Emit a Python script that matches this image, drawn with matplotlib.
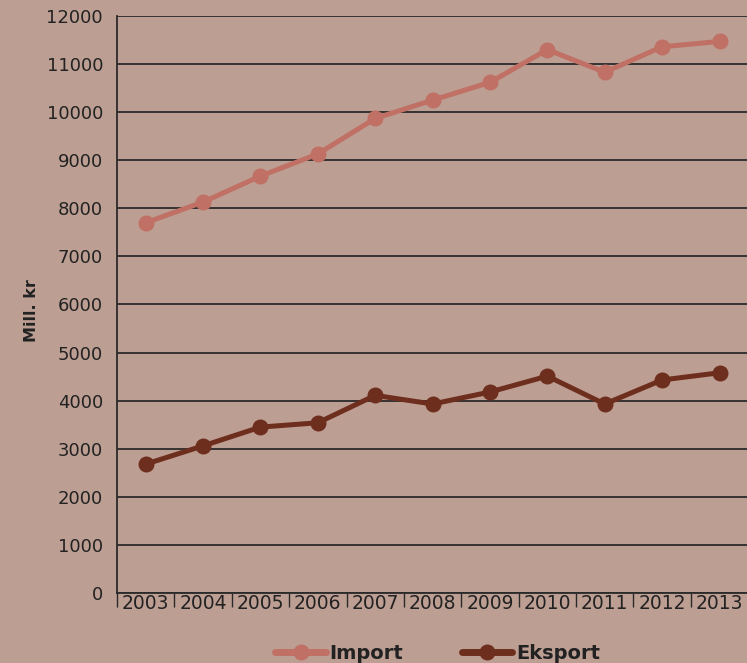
import matplotlib
matplotlib.use("Agg")
import matplotlib.pyplot as plt
import numpy as np

years = ["2003", "2004", "2005", "2006", "2007", "2008", "2009", "2010", "2011", "2012", "2013"]
import_vals = [7700, 8130, 8670, 9130, 9870, 10250, 10620, 11300, 10830, 11360, 11470]
export_vals = [2680, 3060, 3450, 3540, 4110, 3930, 4180, 4510, 3930, 4430, 4580]
yticks = list(range(0, 12001, 1000))

bg = "#BD9E93"
c_imp = "#C07064"
c_exp = "#6E2E1E"
fonts = ["DejaVu Sans"]
txt = "#222222"

fig = plt.figure(figsize=(7.47, 6.63), dpi=100, facecolor=bg)
ax = fig.add_axes([0.1566, 0.1056, 0.845, 0.8703], facecolor=bg)

x = np.arange(len(years))
ax.plot(x, import_vals, color=c_imp, lw=3.6, marker="o", ms=10.5, label="Import", solid_capstyle="round")
ax.plot(x, export_vals, color=c_exp, lw=3.6, marker="o", ms=10.5, label="Eksport", solid_capstyle="round")

ax.set_xlim(-0.5, len(years) - 0.5)
ax.set_ylim(0, 12000)
ax.set_yticks(yticks)
ax.set_yticklabels([str(v) for v in yticks], fontsize=13, family=fonts, color=txt)
ax.tick_params(axis="y", length=0, pad=10)
ax.yaxis.grid(True, color="#2a2a2a", lw=1.3)
ax.set_axisbelow(True)

ax.set_xticks(np.arange(-0.5, len(years), 1.0))
ax.set_xticklabels([])
ax.set_xticks(x, minor=True)
ax.set_xticklabels(years, minor=True, fontsize=13.5, family=fonts, color=txt)
ax.tick_params(axis="x", which="major", length=10, width=1, color="#2a2a2a", direction="out")
ax.tick_params(axis="x", which="minor", length=0, pad=1)

for s in ["top", "right"]:
    ax.spines[s].set_visible(False)
for s in ["left", "bottom"]:
    ax.spines[s].set_color("#2a2a2a")
    ax.spines[s].set_linewidth(1.3)

ax.set_ylabel("Mill. kr", fontsize=11.5, fontweight="bold", family=fonts, color=txt)
ax.yaxis.set_label_coords(-0.123, 0.49)

leg = fig.legend(loc="center", bbox_to_anchor=(0.586, 0.015), ncol=2, frameon=False,
                 prop={"family": fonts, "weight": "bold", "size": 14}, handlelength=2.6,
                 columnspacing=3.0, handletextpad=0.2)
for t in leg.get_texts():
    t.set_color(txt)
for h in leg.legend_handles:
    h.set_linewidth(5)

fig.savefig("out.png", dpi=100, facecolor=bg)
